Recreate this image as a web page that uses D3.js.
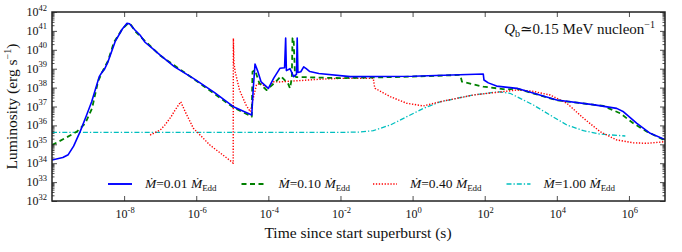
<!DOCTYPE html>
<html><head><meta charset="utf-8">
<script src="https://cdn.jsdelivr.net/npm/d3@7"></script>
<style>
body{margin:0;background:#fff;}
text{font-family:"Liberation Serif","DejaVu Serif",serif;fill:#111;}
</style></head>
<body><svg id="c" width="682" height="252"></svg>
<script>
// log10(time [s]), log10(luminosity [erg/s])
const blueT=[-10,-9.7,-9.55,-9.4,-9.22,-9.05,-8.9,-8.69,-8.6,-8.55,-8.45,-8.25,-8.05,-7.92,-7.85,-7.7,-7.56,-7.42,-7.2,-7.0,-6.6,-6.08,-5.5,-4.97,-4.46,-4.42,-4.37,-4.3,-4.2,-4.0,-3.85,-3.68,-3.55,-3.52,-3.5,-3.4,-3.3,-3.22,-3.2,-3.18,-3.1,-3.02,-2.95,-2.85,-2.6,-1.73,0,1.96,1.98,2.1,2.33,2.89,4.0,5.0,5.66,5.85,6.22,6.59,7.0];
const blueL=[34.17,34.3,34.45,34.9,35.67,36.5,37.25,38.58,38.85,38.95,39.35,40.43,41.1,41.4,41.38,41.05,40.78,40.4,40.05,39.72,39.1,38.49,37.75,36.99,36.55,37.9,39.25,38.9,38.3,37.96,38.5,39.02,39.05,40.62,38.9,39.0,38.58,38.7,40.62,38.8,38.84,39.1,39.0,38.85,38.75,38.58,38.6,38.72,38.4,38.25,38.08,37.96,37.34,37.1,36.9,36.72,36.11,35.58,35.25];
const greenT=[-10,-9.64,-9.31,-9.08,-8.89,-8.72,-8.58,-8.45,-8.28,-8.05,-7.9,-7.82,-7.7,-7.56,-7.0,-6.08,-4.97,-4.46,-4.44,-4.37,-4.25,-4.05,-3.8,-3.65,-3.45,-3.4,-3.35,-3.33,-3.3,-3.26,-3.22,-3.0,-2.0,0,1.32,1.37,1.96,2.6,2.89,4.0,5.0,5.29,5.76,6.12,6.5,7.0];
const greenL=[34.96,35.32,35.67,36.1,36.9,38.35,38.93,39.4,40.41,41.1,41.38,41.35,41.0,40.72,39.7,38.47,36.95,36.46,38.84,38.93,38.23,37.87,38.3,38.6,38.2,37.96,38.5,40.62,40.62,38.6,38.55,38.55,38.5,38.58,38.67,38.31,38.05,37.9,37.95,37.33,37.1,37.03,36.64,36.11,35.67,35.2];
const redT=[-7.28,-7.0,-6.87,-6.7,-6.59,-6.43,-6.3,-6.08,-5.62,-5.02,-4.975,-4.97,-4.955,-4.92,-4.8,-4.62,-4.5,-4.42,-4.33,-4.23,-4.0,-3.87,-3.7,-3.3,-2.5,-2.0,-1.09,-1.06,-1.04,-0.62,-0.16,0.3,0.76,1.69,2.43,2.89,3.3,3.81,4.28,4.74,5.2,5.66,6.12,6.5,7.0];
const redL=[35.49,35.75,36.02,36.45,36.8,37.25,36.7,35.85,34.96,34.08,34.0,40.61,39.3,38.84,37.87,37.08,36.72,37.43,38.14,38.23,37.96,38.31,38.3,38.35,38.45,38.49,38.49,38.1,37.96,37.52,37.17,37.03,37.25,37.61,37.77,37.87,37.82,37.61,37.17,36.38,35.67,35.23,35.08,35.05,35.14];
const cyanT=[-10,-2,-1.46,-1.09,-0.62,-0.16,0.3,0.76,1.69,2.38,2.7,3.35,3.81,4.28,4.74,5.2,5.9];
const cyanL=[35.63,35.63,35.65,35.72,36.02,36.46,36.9,37.25,37.61,37.78,37.7,37.08,36.55,36.02,35.72,35.54,35.44];
const seriesNames=["0.01","0.10","0.40","1.00"];
const xTickExps=[-8,-6,-4,-2,0,2,4,6];
const yTickExps=[32,33,34,35,36,37,38,39,40,41,42];

const svg=d3.select("#c");
const L=52,R=665,T=12,B=201;
const x=d3.scaleLog().domain([1e-10,1e7]).range([L,R]);
const y=d3.scaleLog().domain([1e32,1e42]).range([B,T]);

const series=[
 {T:blueT,L:blueL,color:"#0000ff",w:1.6,dash:null,name:seriesNames[0]},
 {T:greenT,L:greenL,color:"#008000",w:1.8,dash:"5,3.5",name:seriesNames[1]},
 {T:redT,L:redL,color:"#ff0000",w:1.4,dash:"1.3,1.6",name:seriesNames[2]},
 {T:cyanT,L:cyanL,color:"#00bfbf",w:1.3,dash:"5,2,1.3,2",name:seriesNames[3]}
];
svg.append("clipPath").attr("id","cp").append("rect").attr("x",L).attr("y",T).attr("width",R-L).attr("height",B-T);
const line=d3.line().x(d=>x(Math.pow(10,d[0]))).y(d=>y(Math.pow(10,d[1])));
const g=svg.append("g").attr("clip-path","url(#cp)");
[series[3],series[2],series[1],series[0]].forEach(s=>{
  const pts=s.T.map((t,i)=>[t,s.L[i]]);
  g.append("path").attr("d",line(pts)).attr("fill","none").attr("stroke",s.color)
   .attr("stroke-width",s.w).attr("stroke-dasharray",s.dash).attr("stroke-linejoin","round");
});

// axes (ticks inward)
const ax=svg.append("g");
const xMaj=xTickExps.map(e=>Math.pow(10,e));
ax.append("g").attr("transform",`translate(0,${B})`).call(d3.axisBottom(x).tickValues(xMaj).tickSizeInner(-5).tickSizeOuter(0).tickFormat(""));
ax.append("g").attr("transform",`translate(0,${T})`).call(d3.axisTop(x).tickValues(xMaj).tickSizeInner(-5).tickSizeOuter(0).tickFormat(""));
const minorY=[];
for(let e=32;e<42;e++) for(let k=2;k<10;k++) minorY.push(k*Math.pow(10,e));
const majY=yTickExps.map(e=>Math.pow(10,e));
ax.append("g").attr("transform",`translate(${L},0)`).call(d3.axisLeft(y).tickValues(majY).tickSizeInner(-5).tickSizeOuter(0).tickFormat(""));
ax.append("g").attr("transform",`translate(${R},0)`).call(d3.axisRight(y).tickValues(majY).tickSizeInner(-5).tickSizeOuter(0).tickFormat(""));
ax.append("g").attr("transform",`translate(${L},0)`).call(d3.axisLeft(y).tickValues(minorY).tickSizeInner(-2.5).tickSizeOuter(0).tickFormat(""));
ax.append("g").attr("transform",`translate(${R},0)`).call(d3.axisRight(y).tickValues(minorY).tickSizeInner(-2.5).tickSizeOuter(0).tickFormat(""));
ax.selectAll(".domain").remove();
ax.selectAll("line").attr("stroke","#222").attr("stroke-width",0.8);
svg.append("rect").attr("x",L).attr("y",T).attr("width",R-L).attr("height",B-T).attr("fill","none").attr("stroke","#222").attr("stroke-width",1.5);

// tick labels
function pow10Label(sel,e){
  sel.append("tspan").text("10");
  sel.append("tspan").attr("dy",-5.5).attr("font-size",8.5).text(e);
}
xTickExps.forEach(e=>{
  const t=svg.append("text").attr("x",x(Math.pow(10,e))+1).attr("y",218).attr("font-size",12).attr("text-anchor","middle");
  pow10Label(t,e);
});
yTickExps.forEach(e=>{
  const t=svg.append("text").attr("x",47).attr("y",y(Math.pow(10,e))+4).attr("font-size",12).attr("text-anchor","end");
  pow10Label(t,e);
});

// axis titles
svg.append("text").attr("x",358).attr("y",238).attr("font-size",15.5).attr("text-anchor","middle").text("Time since start superburst (s)");
const yl=svg.append("text").attr("transform",`translate(17,${(T+B)/2}) rotate(-90)`).attr("font-size",15.5).attr("text-anchor","middle");
yl.append("tspan").text("Luminosity (erg s");
yl.append("tspan").attr("dy",-6).attr("font-size",10).text("−1");
yl.append("tspan").attr("dy",6).text(")");

// annotation
const an=svg.append("text").attr("x",655).attr("y",34).attr("font-size",15).attr("text-anchor","end");
an.append("tspan").attr("font-style","italic").text("Q");
an.append("tspan").attr("dy",3).attr("font-size",10).text("b");
an.append("tspan").attr("dy",-3).text("\u22430.15 MeV nucleon");
an.append("tspan").attr("dy",-6).attr("font-size",10).text("−1");

// legend
const legX=[108,241.5,373,506.5];
series.forEach((s,i)=>{
  const lg=svg.append("g");
  lg.append("line").attr("x1",legX[i]).attr("x2",legX[i]+24).attr("y1",184).attr("y2",184)
    .attr("stroke",s.color).attr("stroke-width",s.w+0.3).attr("stroke-dasharray",s.dash);
  const t=lg.append("text").attr("x",legX[i]+37).attr("y",188).attr("font-size",13.5);
  t.append("tspan").attr("font-style","italic").text("Ṁ");
  t.append("tspan").text("=" + s.name + " ");
  t.append("tspan").attr("font-style","italic").text("Ṁ");
  t.append("tspan").attr("dy",3).attr("font-size",9).text("Edd");
});
</script></body></html>
